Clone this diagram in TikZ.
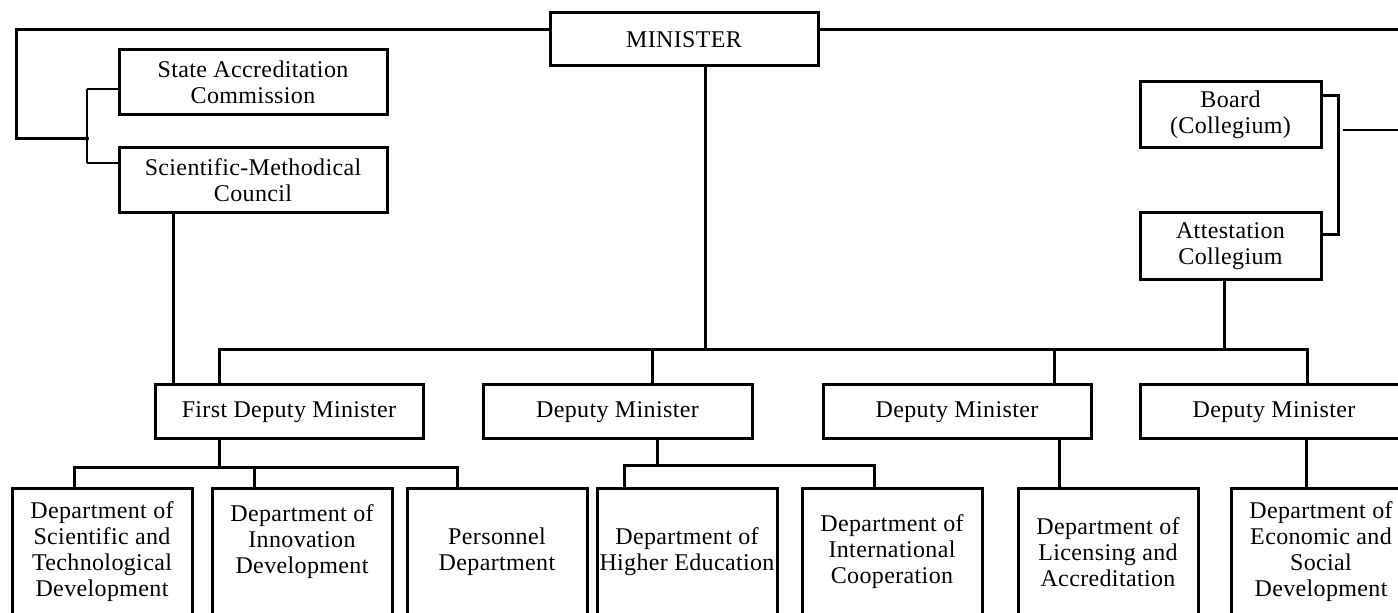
\documentclass[tikz,border=0pt]{standalone}
\usepackage{fontspec}
\setmainfont{Liberation Serif}[LetterSpace=1.5]
\begin{document}
\begin{tikzpicture}[x=0.5pt,y=-0.5pt,
  box/.style={draw,line width=1.5pt,inner sep=0pt,align=center,
    font=\fontsize{12}{13}\selectfont},
  conn/.style={line width=1.5pt,line cap=rect},
  tconn/.style={line width=0.75pt}]
\useasboundingbox (0,0) rectangle (1398,613);
\clip (0,0) rectangle (1398,613);
% top level
\node[box,minimum width=134pt,minimum height=26.5pt] (min) at (684,39.5) {MINISTER};
\node[box,minimum width=134pt,minimum height=32.5pt] (sac) at (253,82.5) {State Accreditation\\Commission};
\node[box,minimum width=134pt,minimum height=32.5pt] (smc) at (253,180.5) {Scientific-Methodical\\Council};
\node[box,minimum width=90.5pt,minimum height=33pt] (board) at (1230.5,115) {Board\\(Collegium)};
\node[box,minimum width=90.5pt,minimum height=33.5pt] (att) at (1230.5,246.5) {Attestation\\Collegium};
% deputies
\node[box,minimum width=134pt,minimum height=27pt] (fdm) at (289,412) {First Deputy Minister};
\node[box,minimum width=134.5pt,minimum height=27pt] (dm2) at (617.5,412) {Deputy Minister};
\node[box,minimum width=134pt,minimum height=27pt] (dm3) at (957,412) {Deputy Minister};
\node[box,minimum width=134pt,minimum height=27pt] (dm4) at (1274,412) {Deputy Minister};
% departments
\node[box,minimum width=90pt,minimum height=63pt] (d1) at (102,552) {Department of\\Scientific and\\Technological\\Development};
\node[box,minimum width=90pt,minimum height=63pt] (d2) at (302,552) {};
\node[align=center,inner sep=0pt,font=\fontsize{12}{13}\selectfont] (d2t) at (302,542) {Department of\\Innovation\\Development};
\node[box,minimum width=90pt,minimum height=63pt] (d3) at (497,552) {Personnel\\Department};
\node[box,minimum width=90pt,minimum height=63pt] (d4) at (687,552) {Department of\\Higher Education};
\node[box,minimum width=90pt,minimum height=63pt] (d5) at (892,552) {Department of\\International\\Cooperation};
\node[box,minimum width=90pt,minimum height=63pt] (d6) at (1108,552) {Department of\\Licensing and\\Accreditation};
\node[box,minimum width=90pt,minimum height=63pt] (d7) at (1321,552) {Department of\\Economic and\\Social\\Development};
% coordinates
\coordinate (tl) at (0,30);
\coordinate (tlL) at (16,30);
\coordinate (tlB) at (16,139);
\coordinate (brk) at (87,139);
\coordinate (tr) at (1402,30);
\coordinate (bk1) at (87,89);
\coordinate (bk2) at (87,163);
\coordinate (s1) at (173,0);
\coordinate (bb1) at (1338,96);
\coordinate (bb2) at (1338,235);
\coordinate (bl1) at (1343,130);
\coordinate (bl2) at (1402,130);
\coordinate (mb1) at (219,350);
\coordinate (mb2) at (652,350);
\coordinate (mbM) at (705,350);
\coordinate (mb3) at (1054,350);
\coordinate (mbA) at (1224,350);
\coordinate (mb4) at (1307,350);
\coordinate (fb) at (219,468);
\coordinate (f1) at (74,468);
\coordinate (f2) at (254,468);
\coordinate (f3) at (457,468);
\coordinate (gb) at (657,466);
\coordinate (g1) at (624,466);
\coordinate (g2) at (874,466);
\coordinate (h3) at (1059,0);
\coordinate (h4) at (1306,0);
% minister top line
\draw[conn] (min.west |- tl) -- (tlL) -- (tlB) -- (brk);
\draw[conn] (min.east |- tl) -- (tr);
% left bracket
\draw[line width=1.3pt] (bk1) -- (bk2);
\draw[tconn] (sac.west |- bk1) -- (bk1);
\draw[tconn] (smc.west |- bk2) -- (bk2);
\draw[conn] (smc.south -| s1) -- (fdm.north -| s1);
% board bracket
\draw[conn] (board.east |- bb1) -- (bb1) -- (bb2) -- (att.east |- bb2);
\draw[tconn] (bl1) -- (bl2);
% main bus
\draw[conn] (mb1) -- (mb4);
\draw[conn] (min.south -| mbM) -- (mbM);
\draw[conn] (att.south -| mbA) -- (mbA);
\draw[conn] (mb1) -- (fdm.north -| mb1);
\draw[conn] (mb2) -- (dm2.north -| mb2);
\draw[conn] (mb3) -- (dm3.north -| mb3);
\draw[conn] (mb4) -- (dm4.north -| mb4);
% first deputy departments
\draw[conn] (fdm.south -| fb) -- (fb);
\draw[conn] (f1) -- (f3);
\draw[conn] (f1) -- (d1.north -| f1);
\draw[conn] (f2) -- (d2.north -| f2);
\draw[conn] (f3) -- (d3.north -| f3);
% deputy 2 departments
\draw[conn] (dm2.south -| gb) -- (gb);
\draw[conn] (g1) -- (g2);
\draw[conn] (g1) -- (d4.north -| g1);
\draw[conn] (g2) -- (d5.north -| g2);
% deputy 3 and 4
\draw[conn] (dm3.south -| h3) -- (d6.north -| h3);
\draw[conn] (dm4.south -| h4) -- (d7.north -| h4);
\end{tikzpicture}
\end{document}
